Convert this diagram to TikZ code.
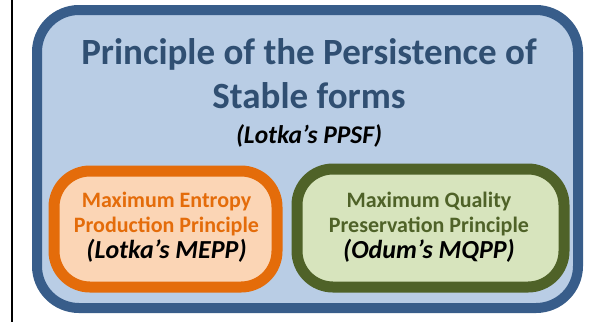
\documentclass[tikz,border=0pt]{standalone}
\usepackage{fontspec}
\setmainfont{Carlito}
\definecolor{outerline}{HTML}{385D8A}
\definecolor{outerfill}{HTML}{B9CDE5}
\definecolor{titlecol}{HTML}{304F72}
\definecolor{orangeline}{HTML}{E46C0A}
\definecolor{orangefill}{HTML}{FBD5B5}
\definecolor{greenline}{HTML}{4F6228}
\definecolor{greenfill}{HTML}{D7E4BD}
\tikzset{
  box/.style={rectangle, inner sep=0pt, line width=10pt},
  txt/.style={inner sep=0pt, anchor=base, font=\bfseries},
}
\begin{document}
\begin{tikzpicture}[x=1pt,y=-1pt]
\useasboundingbox (0,0) rectangle (596,322);
\coordinate (lt) at (12,0);
\coordinate (lb) at (12,322);
\draw[line width=2pt] (lt) -- (lb);
\node[box, draw=outerline, fill=outerfill, rounded corners=42pt, minimum width=541pt, minimum height=298pt] (outer) at (307.5,159) {};
\node[box, draw=orangeline, fill=orangefill, line width=11pt, rounded corners=36pt, minimum width=223pt, minimum height=116pt] (mepp) at (165.5,229) {};
\node[box, draw=greenline, fill=greenfill, line width=11pt, rounded corners=36pt, minimum width=267pt, minimum height=118pt] (mqpp) at (430.5,228) {};
\node[txt, text=titlecol, font=\bfseries\fontsize{37}{42}\selectfont] (t1) at (309,64) {Principle of the Persistence of};
\node[txt, text=titlecol, font=\bfseries\fontsize{37}{42}\selectfont] (t2) at (309,108) {Stable forms};
\node[txt, font=\bfseries\itshape\fontsize{25.5}{30}\selectfont] (t3) at (309,143) {(Lotka’s PPSF)};
\node[txt, text=orangeline, font=\bfseries\fontsize{22}{26}\selectfont] (o1) at (166.5,207) {Maximum Entropy};
\node[txt, text=orangeline, font=\bfseries\fontsize{22}{26}\selectfont] (o2) at (166.5,232) {Production Principle};
\node[txt, font=\bfseries\itshape\fontsize{26}{30}\selectfont] (o3) at (166.5,258) {(Lotka’s MEPP)};
\node[txt, text=greenline, font=\bfseries\fontsize{22}{26}\selectfont] (g1) at (429,207) {Maximum Quality};
\node[txt, text=greenline, font=\bfseries\fontsize{22}{26}\selectfont] (g2) at (429,232) {Preservation Principle};
\node[txt, font=\bfseries\itshape\fontsize{26}{30}\selectfont] (g3) at (429,258) {(Odum’s MQPP)};
\end{tikzpicture}
\end{document}
